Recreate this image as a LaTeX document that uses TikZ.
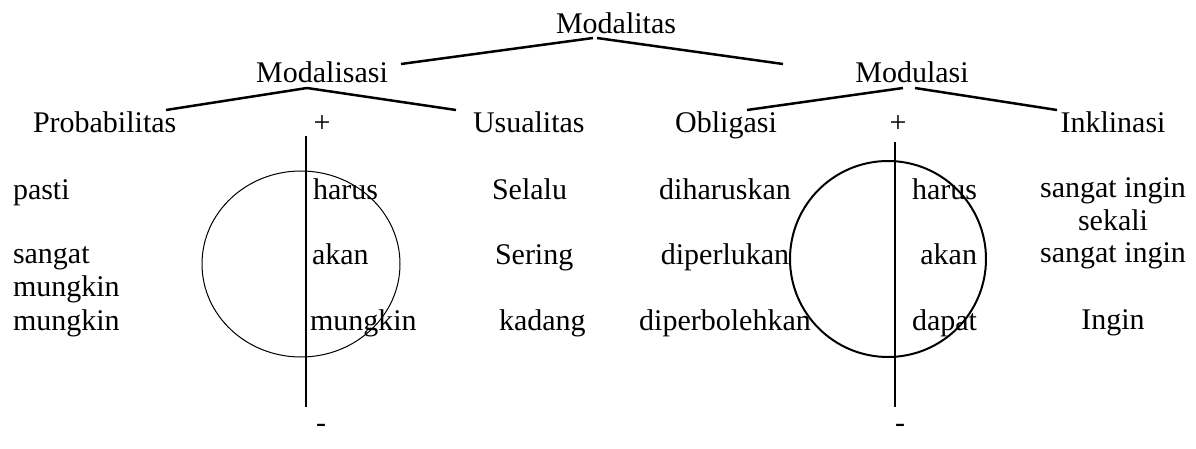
\documentclass[tikz,border=0pt]{standalone}
\usepackage{fontspec}
\setmainfont{Liberation Serif}
\usetikzlibrary{shapes.geometric}
\begin{document}
\begin{tikzpicture}[x=0.5pt,y=-0.5pt,
  every node/.style={inner sep=0pt, outer sep=0pt, font=\fontsize{15}{16.75}\selectfont},
  lbl/.style={anchor=base},
  lblw/.style={anchor=base west},
  lble/.style={anchor=base east},
  branch/.style={line width=1.25pt},
  axisline/.style={line width=1.25pt},
  ringthin/.style={draw, ellipse, line width=0.5pt},
  ringthick/.style={draw, ellipse, line width=1pt}]
\useasboundingbox (0,0) rectangle (1196,449);

% rings
\node[ringthin, minimum width=99pt, minimum height=93pt] (ringL) at (301,264) {};
\node[ringthick, minimum width=98pt, minimum height=98pt] (ringR) at (888,259) {};

% tree labels
\node[lbl] (modalitas) at (616,34) {Modalitas};
\node[lbl] (modalisasi) at (322,83) {Modalisasi};
\node[lbl] (modulasi) at (912,83) {Modulasi};
\node[lblw] (prob) at (33,133) {Probabilitas};
\node[lblw] (usual) at (473,133) {Usualitas};
\node[lbl] (oblig) at (726,133) {Obligasi};
\node[lbl] (inkl) at (1113,133) {Inklinasi};
\node[lbl] (plusL) at (322,133) {+};
\node[lbl] (plusR) at (898,133) {+};
\node[lbl] (minL) at (321,432) {-};
\node[lbl] (minR) at (900,432) {-};

% probabilitas column
\node[lblw] (p1) at (13,199) {pasti};
\node[lblw, align=left] (p2) at (13,297) {sangat\\mungkin};
\node[lblw] (p3) at (13,330) {mungkin};
% left ring column
\node[lblw] (h1) at (313,199) {harus};
\node[lblw] (h2) at (312,264) {akan};
\node[lblw] (h3) at (310,330) {mungkin};
% usualitas column
\node[lblw] (u1) at (492,199) {Selalu};
\node[lblw] (u2) at (495,264) {Sering};
\node[lblw] (u3) at (499,330) {kadang};
% obligasi column
\node[lbl] (o1) at (725,199) {diharuskan};
\node[lbl] (o2) at (725,264) {diperlukan};
\node[lbl] (o3) at (725,330) {diperbolehkan};
% right ring column
\node[lble] (r1) at (977,199) {harus};
\node[lble] (r2) at (977,264) {akan};
\node[lble] (r3) at (977,330) {dapat};
% inklinasi column
\node[lbl, align=center] (i1) at (1113,231) {sangat ingin\\sekali};
\node[lbl] (i2) at (1113,263) {sangat ingin};
\node[lbl] (i3) at (1113,329) {Ingin};

% branches
\draw[branch] ([shift={(79,-19)}]modalisasi.base) -- ([shift={(-23,4)}]modalitas.base);
\draw[branch] ([shift={(-19,4)}]modalitas.base) -- ([shift={(-129,-19)}]modulasi.base);
\draw[branch] ([shift={(133,-23)}]prob.base west) -- ([shift={(-15,5)}]modalisasi.base);
\draw[branch] ([shift={(-15,5)}]modalisasi.base) -- ([shift={(-17,-23)}]usual.base west);
\draw[branch] ([shift={(21,-23)}]oblig.base) -- ([shift={(-9,5)}]modulasi.base);
\draw[branch] ([shift={(3,5)}]modulasi.base) -- ([shift={(-56,-23)}]inkl.base);

% axes
\draw[axisline] ([shift={(-16,3)}]plusL.base) -- ([shift={(-15,-25)}]minL.base);
\draw[axisline] ([shift={(-3,9)}]plusR.base) -- ([shift={(-5,-25)}]minR.base);
\end{tikzpicture}
\end{document}
